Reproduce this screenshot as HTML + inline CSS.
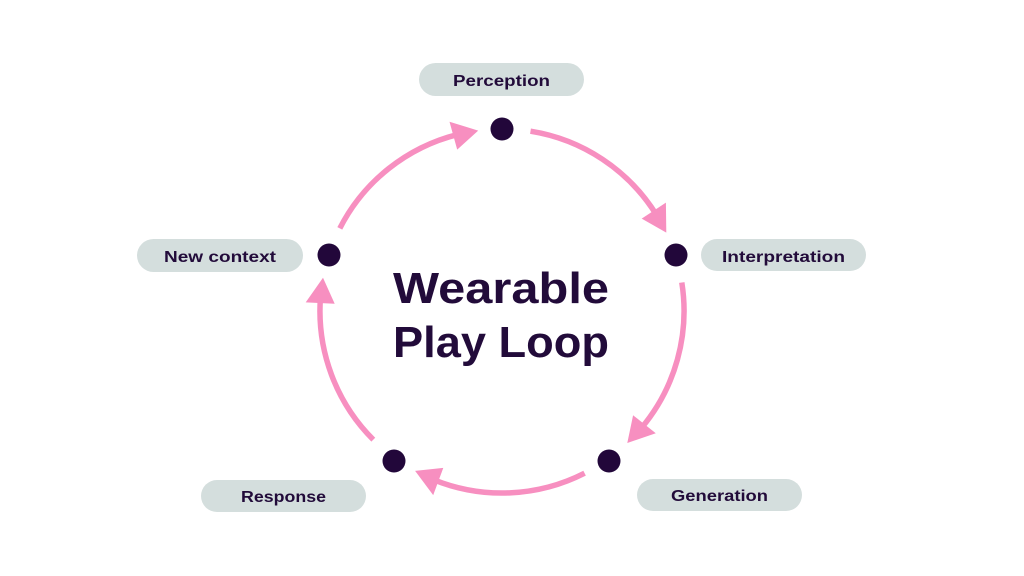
<!DOCTYPE html>
<html>
<head>
<meta charset="utf-8">
<style>
  html,body{margin:0;padding:0;background:#ffffff;}
  body{width:1024px;height:576px;overflow:hidden;}
  svg{display:block;}
  .lbl{font-family:"Liberation Sans",sans-serif;font-weight:bold;font-size:16px;fill:#220b3a;}
  .ttl{font-family:"Liberation Sans",sans-serif;font-weight:bold;font-size:44px;fill:#220b3a;}
</style>
</head>
<body>
<svg width="1024" height="576" viewBox="0 0 1024 576" xmlns="http://www.w3.org/2000/svg">
  <rect width="1024" height="576" fill="#ffffff"/>

  <!-- arcs -->
  <g fill="none" stroke="#f78fc0" stroke-width="5.5">
    <path d="M530.5 131.2 A182 182 0 0 1 656.3 214.6"/>
    <path d="M681.8 282.5 A182 182 0 0 1 641.4 428.0"/>
    <path d="M584.6 473.2 A182 182 0 0 1 433.8 479.8"/>
    <path d="M373.3 439.7 A182 182 0 0 1 320.4 298.3"/>
    <path d="M339.8 228.4 A182 182 0 0 1 458.0 134.4"/>
  </g>
  <!-- arrowheads -->
  <g fill="#f78fc0">
    <polygon points="666.3,232.6 665.9,202.6 641.7,218.6"/>
    <polygon points="627.3,443.0 655.8,433.3 633.1,415.3"/>
    <polygon points="415.1,470.9 433.2,495.1 443.3,467.9"/>
    <polygon points="323.0,277.8 305.7,302.4 334.7,303.7"/>
    <polygon points="478.2,130.6 449.5,121.7 457.2,149.6"/>
  </g>

  <!-- dots -->
  <g fill="#22073a">
    <circle cx="502" cy="129" r="11.5"/>
    <circle cx="676" cy="255" r="11.5"/>
    <circle cx="609" cy="461" r="11.5"/>
    <circle cx="394" cy="461" r="11.5"/>
    <circle cx="329" cy="255" r="11.5"/>
  </g>

  <!-- pills -->
  <g fill="#d4dedd">
    <rect x="419" y="63" width="165" height="33" rx="16.5"/>
    <rect x="701" y="239" width="165" height="32" rx="16"/>
    <rect x="637" y="479" width="165" height="32" rx="16"/>
    <rect x="201" y="480" width="165" height="32" rx="16"/>
    <rect x="137" y="239" width="166" height="33" rx="16.5"/>
  </g>

  <!-- labels -->
  <text class="lbl" x="453" y="86" textLength="97" lengthAdjust="spacingAndGlyphs">Perception</text>
  <text class="lbl" x="722" y="262" textLength="123" lengthAdjust="spacingAndGlyphs">Interpretation</text>
  <text class="lbl" x="671" y="501" textLength="97" lengthAdjust="spacingAndGlyphs">Generation</text>
  <text class="lbl" x="241" y="502" textLength="85" lengthAdjust="spacingAndGlyphs">Response</text>
  <text class="lbl" x="164" y="262" textLength="112" lengthAdjust="spacingAndGlyphs">New context</text>

  <!-- title -->
  <text class="ttl" x="393" y="303" textLength="216" lengthAdjust="spacingAndGlyphs">Wearable</text>
  <text class="ttl" x="393" y="357" textLength="216" lengthAdjust="spacingAndGlyphs">Play Loop</text>
</svg>
</body>
</html>
